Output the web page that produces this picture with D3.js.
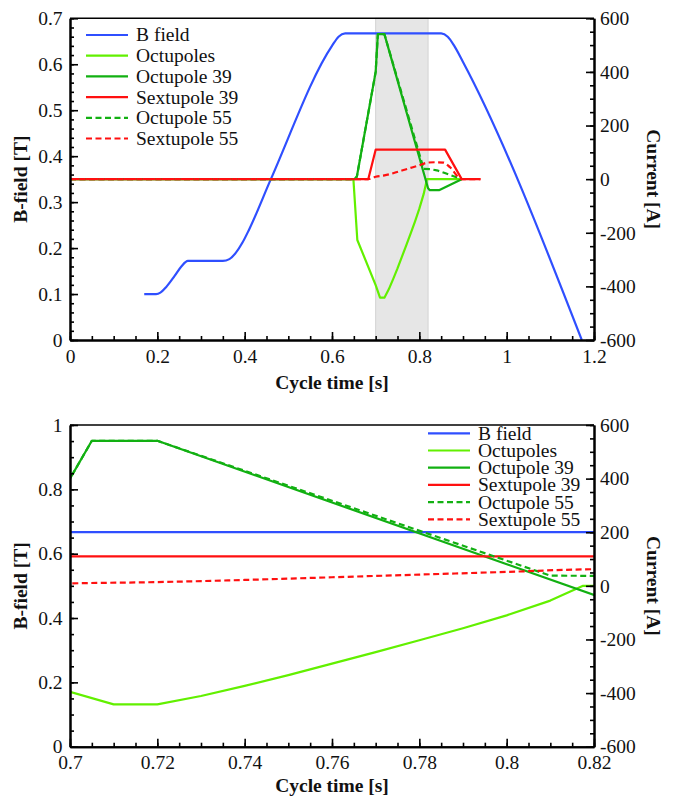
<!DOCTYPE html>
<html>
<head>
<meta charset="utf-8">
<script src="https://cdn.jsdelivr.net/npm/d3@7"></script>
<style>
  html, body { margin: 0; padding: 0; background: #fff; font-family: "Liberation Serif", serif; }
  svg { display: block; }
</style>
</head>
<body>
<svg id="chart" width="673" height="799" font-family="Liberation Serif"></svg>
<script>
// ---------------- DATA ----------------
const seriesNames = ["B field", "Octupoles", "Octupole 39", "Sextupole 39", "Octupole 55", "Sextupole 55"];

// B field [T] (left axis)
const bfieldT = [0.17, 0.197, 0.207, 0.22, 0.24, 0.255, 0.27, 0.35, 0.365, 0.38, 0.395, 0.41, 0.46, 0.6, 0.615, 0.63, 0.85, 0.865, 0.88, 0.9, 1.172];
const bfieldV = [0.1, 0.1, 0.103, 0.115, 0.14, 0.16, 0.172, 0.172, 0.176, 0.19, 0.212, 0.24, 0.35, 0.64, 0.66, 0.667, 0.667, 0.66, 0.64, 0.605, 0.0];

// Currents [A] (right axis)
const octupolesT = [0, 0.649, 0.658, 0.70, 0.71, 0.72, 0.73, 0.74, 0.75, 0.76, 0.77, 0.78, 0.79, 0.80, 0.81, 0.8175, 0.897];
const octupolesV = [0, 0, -227, -395, -442, -442, -411, -373, -333, -290, -247, -203, -158, -110, -55, 0, 0];

const oct39T = [0, 0.652, 0.657, 0.70, 0.705, 0.72, 0.82, 0.824, 0.845, 0.897];
const oct39V = [0, 0, 10, 400, 541, 541, -34, -41, -41, 0];

const sext39T = [0, 0.683, 0.70, 0.859, 0.897, 0.94];
const sext39V = [0, 0, 110, 110, 0, 0];

const oct55T = [0, 0.652, 0.657, 0.70, 0.705, 0.72, 0.81, 0.825, 0.84, 0.86, 0.897];
const oct55V = [0, 0, 10, 400, 541, 541, 38, 37, 33, 22, 0];

const sext55T = [0, 0.683, 0.70, 0.72, 0.74, 0.76, 0.78, 0.80, 0.82, 0.835, 0.855, 0.87, 0.897, 0.94];
const sext55V = [0, 0, 9, 14, 22, 32, 42, 52, 62, 63, 62, 45, 0, 0];

// Tick labels
const topXTicks = [0, 0.2, 0.4, 0.6, 0.8, 1, 1.2];
const topYLeftTicks = [0, 0.1, 0.2, 0.3, 0.4, 0.5, 0.6, 0.7];
const botXTicks = [0.7, 0.72, 0.74, 0.76, 0.78, 0.8, 0.82];
const botYLeftTicks = [0, 0.2, 0.4, 0.6, 0.8, 1];
const yRightTicks = [-600, -400, -200, 0, 200, 400, 600];

// Highlighted window on the top panel
const bandRange = [0.7, 0.82];

// ---------------- STYLE ----------------
const colors = ["#2f4fff", "#62f000", "#12b012", "#ff1010", "#12b012", "#ff1010"];
const dashes = [null, null, null, null, "6,3.5", "6,3.5"];
const FONT = 19.5;
const FAMILY = "Liberation Serif";

const zip = (t, v) => t.map((d, i) => [d, v[i]]);
const seriesData = [
  { data: zip(bfieldT, bfieldV), axis: "L", curve: d3.curveMonotoneX },
  { data: zip(octupolesT, octupolesV), axis: "R", curve: d3.curveLinear },
  { data: zip(oct39T, oct39V), axis: "R", curve: d3.curveLinear },
  { data: zip(sext39T, sext39V), axis: "R", curve: d3.curveLinear },
  { data: zip(oct55T, oct55V), axis: "R", curve: d3.curveLinear },
  { data: zip(sext55T, sext55V), axis: "R", curve: d3.curveMonotoneX }
];

const svg = d3.select("#chart");

function minorRange(a, b, step) {
  const n = Math.round((b - a) / step);
  return d3.range(n + 1).map(i => +(a + i * step).toFixed(6));
}

function setFont(sel, weight) {
  sel.attr("font-family", FAMILY).attr("font-size", FONT)
    .style("font-family", FAMILY).style("font-size", FONT + "px")
    .attr("font-weight", weight || "normal").style("font-weight", weight || "normal");
}

function panel(cfg) {
  const { x0, x1, y0, y1 } = cfg;
  const x = d3.scaleLinear(cfg.xDom, [x0, x1]);
  const yL = d3.scaleLinear(cfg.yLDom, [y1, y0]);
  const yR = d3.scaleLinear([-600, 600], [y1, y0]);
  const g = svg.append("g");
  const clipId = "clip" + cfg.id;
  svg.append("defs").append("clipPath").attr("id", clipId)
    .append("rect").attr("x", x0).attr("y", y0).attr("width", x1 - x0).attr("height", y1 - y0);

  if (cfg.band) {
    g.append("rect")
      .attr("x", x(cfg.band[0])).attr("y", y0)
      .attr("width", x(cfg.band[1]) - x(cfg.band[0])).attr("height", y1 - y0)
      .attr("fill", "#e6e6e6").attr("stroke", "#d2d2d2").attr("stroke-width", 1);
  }

  const lines = g.append("g").attr("clip-path", `url(#${clipId})`);
  seriesData.forEach((s, i) => {
    const yy = s.axis === "L" ? yL : yR;
    const gen = d3.line().x(d => x(d[0])).y(d => yy(d[1])).curve(s.curve);
    lines.append("path")
      .attr("d", gen(s.data))
      .attr("fill", "none")
      .attr("stroke", colors[i])
      .attr("stroke-width", 2.2)
      .attr("stroke-linejoin", "round")
      .attr("stroke-dasharray", dashes[i]);
  });

  const fmt = d => String(+d.toFixed(4));
  const styleAxis = sel => {
    sel.attr("font-family", FAMILY).attr("font-size", FONT);
    sel.selectAll("path.domain").attr("stroke", "#000").attr("stroke-width", 2);
    sel.selectAll(".tick line").attr("stroke", "#000").attr("stroke-width", 1.6);
    sel.selectAll("text").call(setFont).attr("fill", "#111");
  };

  // minor ticks
  g.append("g").attr("transform", `translate(0,${y1})`)
    .call(d3.axisBottom(x).tickValues(minorRange(cfg.xDom[0], cfg.xDom[1], cfg.xMinor)).tickSize(-4).tickSizeOuter(0).tickFormat(""))
    .call(styleAxis);
  g.append("g").attr("transform", `translate(${x0},0)`)
    .call(d3.axisLeft(yL).tickValues(minorRange(cfg.yLDom[0], cfg.yLDom[1], cfg.yLMinor)).tickSize(-4).tickSizeOuter(0).tickFormat(""))
    .call(styleAxis);
  g.append("g").attr("transform", `translate(${x1},0)`)
    .call(d3.axisRight(yR).tickValues(minorRange(-600, 600, 50)).tickSize(-4).tickSizeOuter(0).tickFormat(""))
    .call(styleAxis);

  // major ticks with labels
  g.append("g").attr("transform", `translate(0,${y1})`)
    .call(d3.axisBottom(x).tickValues(cfg.xTicks).tickSize(-8).tickSizeOuter(0).tickPadding(8.7).tickFormat(fmt))
    .call(styleAxis);
  g.append("g").attr("transform", `translate(${x0},0)`)
    .call(d3.axisLeft(yL).tickValues(cfg.yLTicks).tickSize(-8).tickSizeOuter(0).tickPadding(7.5).tickFormat(fmt))
    .call(styleAxis);
  g.append("g").attr("transform", `translate(${x1},0)`)
    .call(d3.axisRight(yR).tickValues(yRightTicks).tickSize(-8).tickSizeOuter(0).tickPadding(6).tickFormat(fmt))
    .call(styleAxis);

  // top frame
  g.append("line").attr("x1", x0).attr("x2", x1).attr("y1", y0).attr("y2", y0)
    .attr("stroke", "#000").attr("stroke-width", 1.6);

  // axis titles
  const midY = (y0 + y1) / 2;
  const title = sel => sel.attr("text-anchor", "middle").call(setFont, "bold").attr("fill", "#111");
  g.append("text").attr("x", (x0 + x1) / 2).attr("y", y1 + cfg.xTitleDy)
    .call(title).text("Cycle time [s]");
  g.append("text").attr("transform", `translate(27,${midY}) rotate(-90)`)
    .call(title).text("B-field [T]");
  g.append("text").attr("transform", `translate(647,${midY}) rotate(90)`)
    .call(title).text("Current [A]");

  // legend
  const lg = g.append("g");
  seriesNames.forEach((name, i) => {
    const cy = cfg.legY + i * cfg.legStep;
    lg.append("line").attr("x1", cfg.legX).attr("x2", cfg.legX + 42).attr("y1", cy).attr("y2", cy)
      .attr("stroke", colors[i]).attr("stroke-width", 2.2).attr("stroke-dasharray", dashes[i]);
    lg.append("text").attr("x", cfg.legX + 50).attr("y", cy + 6.4)
      .call(setFont).attr("fill", "#111").text(name);
  });
}

panel({
  id: "top", x0: 70, x1: 594, y0: 18.3, y1: 340,
  xDom: [0, 1.2], yLDom: [0, 0.7],
  xTicks: topXTicks, yLTicks: topYLeftTicks,
  xMinor: 0.05, yLMinor: 0.02,
  band: bandRange, xTitleDy: 49,
  legX: 86, legY: 35, legStep: 20.7
});

panel({
  id: "bot", x0: 70, x1: 594, y0: 425, y1: 746.7,
  xDom: [0.7, 0.82], yLDom: [0, 1],
  xTicks: botXTicks, yLTicks: botYLeftTicks,
  xMinor: 0.005, yLMinor: 0.05,
  band: null, xTitleDy: 45,
  legX: 428, legY: 433.3, legStep: 17.2
});
</script>
</body>
</html>
